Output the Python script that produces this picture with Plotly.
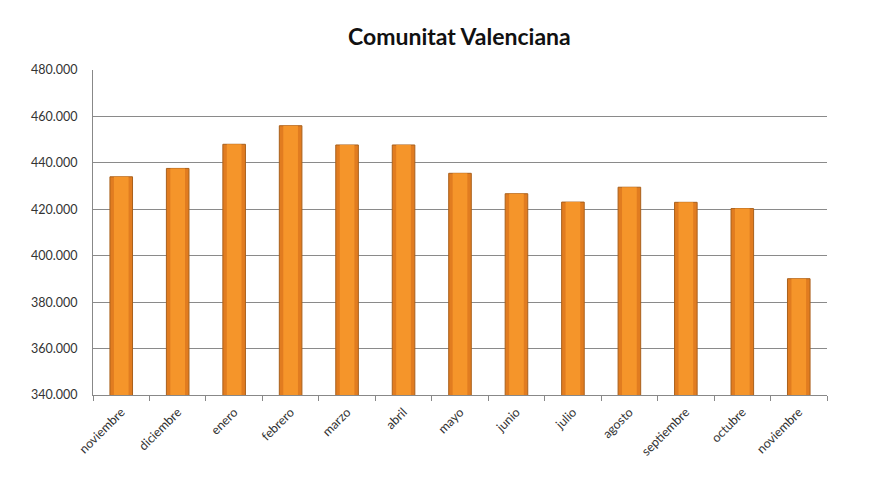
import plotly.graph_objects as go

months = ["noviembre", "diciembre", "enero", "febrero", "marzo", "abril", "mayo",
          "junio", "julio", "agosto", "septiembre", "octubre", "noviembre"]
values = [434000, 437600, 448000, 456000, 447700, 447700, 435500,
          426700, 423100, 429500, 423000, 420300, 390100]
title_text = "Comunitat Valenciana"
y_ticks = [340000, 360000, 380000, 400000, 420000, 440000, 460000, 480000]

# unique x positions (month names repeat)
x_pos = list(range(len(months)))

fig = go.Figure()
fig.add_trace(go.Bar(
    x=x_pos, y=values,
    marker=dict(color="#E17C20", line=dict(color="#A9601C", width=1)),
    width=0.4,
))
fig.add_trace(go.Bar(
    x=x_pos, y=values,
    marker=dict(color="#F5952A", line=dict(width=0)),
    width=0.26,
))

fig.update_layout(
    width=880, height=495,
    margin=dict(l=93, r=53, t=70, b=100),
    paper_bgcolor="white", plot_bgcolor="white",
    separators=",.",
    showlegend=False,
    barmode="overlay",
    font=dict(family="Lato", size=12, color="#333"),
    title=dict(text="<b>" + title_text + "</b>", x=0.522, xanchor="center",
               y=0.925, yanchor="middle",
               font=dict(family="Lato", size=23, color="#111")),
)
fig.update_xaxes(
    tickmode="array", tickvals=x_pos, ticktext=months, tickangle=-45,
    range=[-0.5, len(months) - 0.5],
    tickfont=dict(size=12.5),
    showline=True, linecolor="#888", linewidth=1,
    ticks="", ticklabelstandoff=4,
    showgrid=False, type="linear",
    minor=dict(tickmode="array",
               tickvals=[i - 0.5 for i in range(len(months) + 1)],
               ticks="outside", ticklen=5, tickcolor="#888",
               showgrid=False),
)
fig.update_yaxes(
    range=[340000, 480000], tickvals=y_ticks, tickformat=",d",
    tickfont=dict(size=12.5),
    showline=True, linecolor="#888", linewidth=1,
    ticks="", ticklabelstandoff=12,
    showgrid=True, gridcolor="#8a8a8a", gridwidth=1,
    zeroline=False,
)

fig.write_html("out.html")
